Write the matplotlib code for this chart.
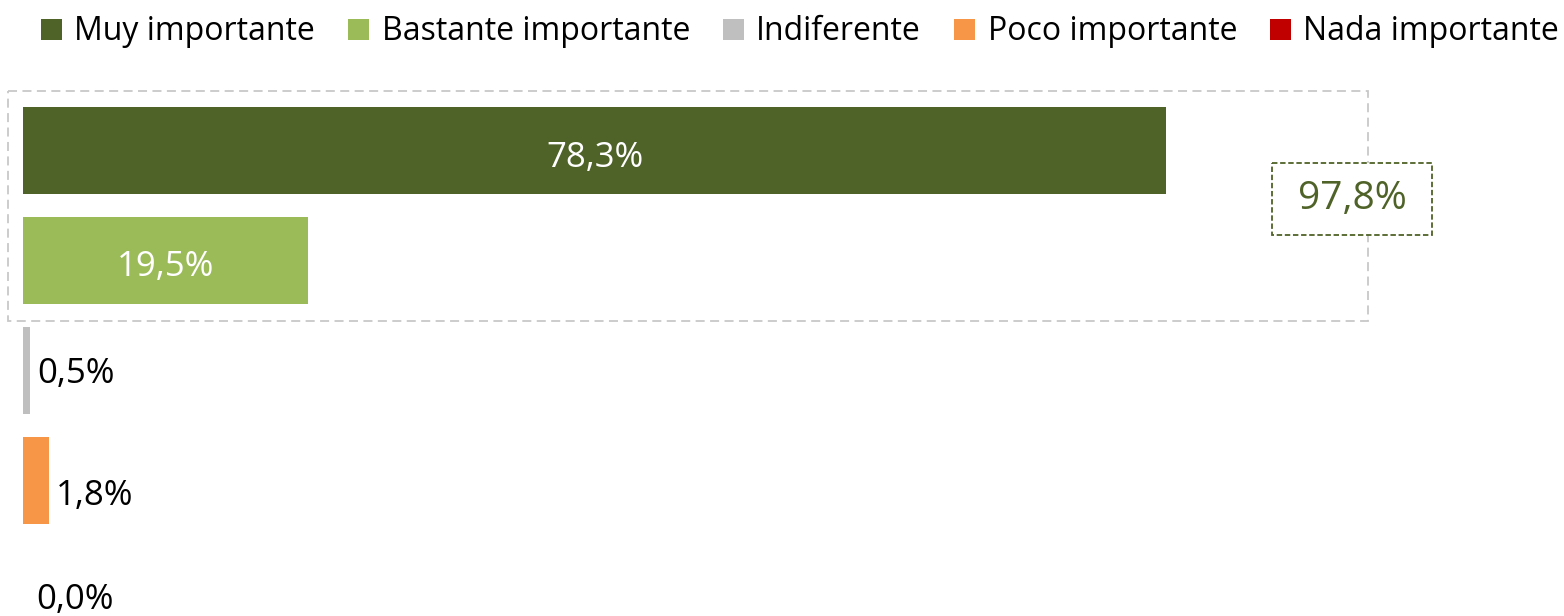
import matplotlib
matplotlib.use("Agg")
import matplotlib.pyplot as plt
from matplotlib.patches import Patch, Rectangle
import numpy as np

categories = ["Muy importante", "Bastante importante", "Indiferente", "Poco importante", "Nada importante"]
values = [78.3, 19.5, 0.5, 1.8, 0.0]
labels = ["78,3%", "19,5%", "0,5%", "1,8%", "0,0%"]
colors = ["#4f6228", "#9bbb59", "#bfbfbf", "#f79646", "#c00000"]
total_label = "97,8%"

plt.rcParams["font.family"] = ["Open Sans", "DejaVu Sans"]

W, H = 1564, 616
fig = plt.figure(figsize=(W / 100, H / 100), dpi=100)
# axes placed in pixel terms: x from 23 px, 14.6 px per %
ax_left, ax_top = 23, 40
ax_w = 14.6 * 100
ax = fig.add_axes([ax_left / W, 0, ax_w / W, (H - ax_top) / H])
ax.set_xlim(0, 100)
pitch = 110.0
top_y = -(150.5 - ax_top) / pitch
bot_y = (H - 150.5) / pitch
ax.set_ylim(bot_y, top_y)
ax.axis("off")

y = np.arange(len(values))
ax.barh(y, values, height=0.79, color=colors)

# small vertical nudges of the labels, as placed in the original
label_dy = [0.07, 0.06, 0.03, 0.14, 0.09]
for i, (v, lab) in enumerate(zip(values, labels)):
    if v > 10:
        ax.text(v / 2, i + label_dy[i], lab, ha="center", va="center", color="white", fontsize=25)
    else:
        gap = 0.45 if v > 0 else 0.9
        ax.text(v + gap, i + label_dy[i], lab, ha="left", va="center",
                color="black", fontsize=25)

# dashed box around the two top bars
box = Rectangle((-1.03, -0.54), 93.15, 2.09, fill=False, edgecolor="#c8c8c8",
                linestyle=(0, (5, 3)), linewidth=1.3, clip_on=False)
ax.add_patch(box)

# total callout
tbox = Rectangle((85.55, 0.114), 10.95, 0.654, facecolor="white", edgecolor="#4f6228",
                 linestyle=(0, (3, 1.5)), linewidth=1.3, clip_on=False, zorder=3)
ax.add_patch(tbox)
ax.text(91.03, 0.44, total_label, ha="center", va="center", color="#4f6228", fontsize=28,
        zorder=4)

handles = [Patch(facecolor=c, edgecolor="none") for c in colors]
fig.legend(handles, categories, loc="center", bbox_to_anchor=(800 / W, 1 - 32 / H), ncol=5,
           frameon=False, fontsize=23, handlelength=0.65, handleheight=0.65,
           handletextpad=0.4, columnspacing=1.03, borderaxespad=0, borderpad=0)

fig.savefig("out.png", dpi=100)
